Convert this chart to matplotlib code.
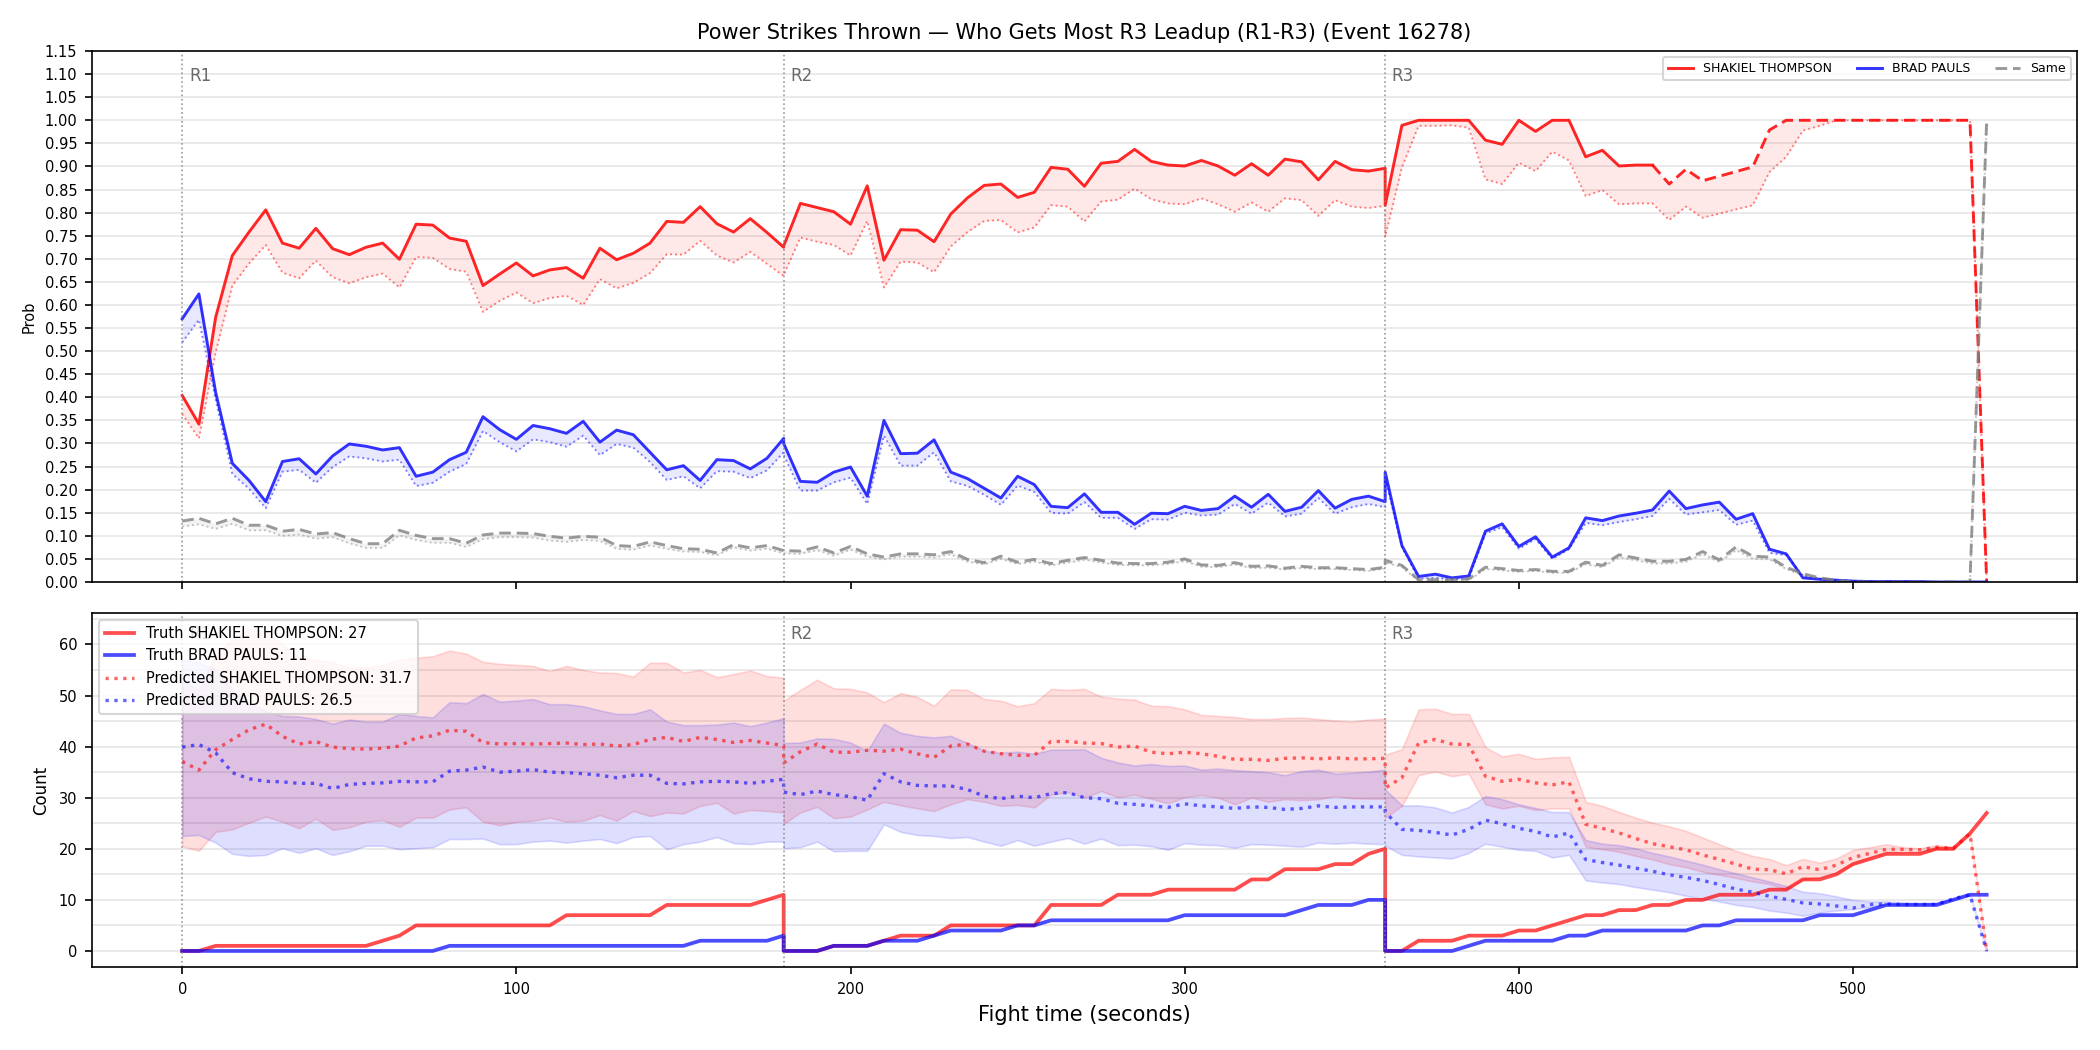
import numpy as np
import matplotlib
matplotlib.use("Agg")
import matplotlib.pyplot as plt
from matplotlib.ticker import MultipleLocator

# ---------------- data ----------------
ROUND_STARTS = [0, 180, 360]
ROUND_LABELS = ["R1", "R2", "R3"]
STEP = 5
ROUND_LEN = 180
t = np.concatenate([np.arange(s, s + ROUND_LEN + 1, STEP) for s in ROUND_STARTS])

FIGHTER_A = "SHAKIEL THOMPSON"
FIGHTER_B = "BRAD PAULS"
TRUTH_A_FINAL = 27
TRUTH_B_FINAL = 11
PRED_A_FINAL = 31.7
PRED_B_FINAL = 26.5

# top panel: probability of getting most strikes
prob_a = [0.404, 0.342, 0.573, 0.707, 0.758, 0.806, 0.734, 0.723, 0.766, 0.722,
          0.709, 0.725, 0.734, 0.699, 0.775, 0.773, 0.745, 0.738, 0.642, 0.667,
          0.691, 0.663, 0.676, 0.681, 0.658, 0.723, 0.698, 0.712, 0.734, 0.781,
          0.779, 0.813, 0.776, 0.758, 0.787, 0.757, 0.725,
          0.728, 0.820, 0.811, 0.802, 0.775, 0.858, 0.697, 0.763, 0.762, 0.737,
          0.797, 0.832, 0.859, 0.862, 0.833, 0.844, 0.898, 0.894, 0.857, 0.907,
          0.911, 0.937, 0.911, 0.903, 0.901, 0.913, 0.901, 0.881, 0.906, 0.881,
          0.916, 0.910, 0.871, 0.911, 0.893, 0.890, 0.896,
          0.816, 0.989, 1.0, 1.0, 1.0, 1.0, 0.957, 0.948, 1.0, 0.976,
          1.0, 1.0, 0.921, 0.935, 0.901, 0.903, 0.903, 0.862, 0.894, 0.869,
          0.879, 0.889, 0.899, 0.979, 1.0, 1.0, 1.0, 1.0, 1.0, 1.0,
          1.0, 1.0, 1.0, 1.0, 1.0, 1.0, 0.0]
prob_a_pred = [0.364, 0.311, 0.497, 0.642, 0.690, 0.730, 0.670, 0.658, 0.696, 0.660,
               0.647, 0.660, 0.668, 0.638, 0.704, 0.702, 0.678, 0.672, 0.585, 0.609,
               0.627, 0.604, 0.615, 0.620, 0.600, 0.656, 0.636, 0.648, 0.669, 0.710,
               0.709, 0.739, 0.707, 0.692, 0.715, 0.689, 0.663,
               0.665, 0.746, 0.737, 0.730, 0.707, 0.782, 0.638, 0.694, 0.692, 0.671,
               0.727, 0.758, 0.782, 0.784, 0.757, 0.768, 0.816, 0.813, 0.781, 0.824,
               0.828, 0.852, 0.829, 0.820, 0.818, 0.831, 0.818, 0.802, 0.822, 0.802,
               0.831, 0.827, 0.793, 0.827, 0.813, 0.810, 0.815,
               0.748, 0.898, 0.988, 0.988, 0.989, 0.984, 0.872, 0.862, 0.908, 0.890,
               0.932, 0.913, 0.836, 0.849, 0.818, 0.820, 0.820, 0.784, 0.813, 0.789,
               0.798, 0.807, 0.816, 0.888, 0.921, 0.978, 0.988, 1.0, 1.0, 1.0,
               1.0, 1.0, 1.0, 1.0, 1.0, 1.0, 0.0]
prob_b = [0.570, 0.624, 0.411, 0.257, 0.220, 0.174, 0.261, 0.267, 0.234, 0.273,
          0.299, 0.294, 0.286, 0.291, 0.229, 0.238, 0.265, 0.281, 0.358, 0.330,
          0.309, 0.339, 0.332, 0.322, 0.348, 0.303, 0.329, 0.319, 0.281, 0.243,
          0.252, 0.220, 0.265, 0.263, 0.245, 0.268, 0.311,
          0.300, 0.218, 0.216, 0.238, 0.249, 0.186, 0.350, 0.278, 0.279, 0.308,
          0.238, 0.224, 0.203, 0.182, 0.229, 0.211, 0.164, 0.161, 0.191, 0.151,
          0.151, 0.125, 0.149, 0.148, 0.164, 0.155, 0.159, 0.186, 0.162, 0.190,
          0.153, 0.162, 0.198, 0.160, 0.179, 0.186, 0.174,
          0.238, 0.079, 0.012, 0.017, 0.009, 0.013, 0.110, 0.126, 0.077, 0.098,
          0.054, 0.074, 0.139, 0.133, 0.143, 0.149, 0.156, 0.197, 0.159, 0.167,
          0.173, 0.136, 0.148, 0.071, 0.061, 0.009, 0.006, 0.004, 0.002, 0.001,
          0.001, 0.001, 0.001, 0.0, 0.0, 0.0, 0.0]
prob_b_pred = [0.519, 0.568, 0.395, 0.234, 0.202, 0.160, 0.239, 0.243, 0.215, 0.249,
               0.272, 0.268, 0.261, 0.265, 0.208, 0.215, 0.239, 0.256, 0.327, 0.303,
               0.283, 0.309, 0.303, 0.293, 0.317, 0.275, 0.299, 0.291, 0.260, 0.221,
               0.229, 0.203, 0.240, 0.239, 0.225, 0.242, 0.281,
               0.275, 0.198, 0.198, 0.216, 0.226, 0.169, 0.317, 0.252, 0.252, 0.281,
               0.218, 0.208, 0.189, 0.167, 0.209, 0.195, 0.150, 0.148, 0.173, 0.139,
               0.139, 0.115, 0.136, 0.135, 0.150, 0.144, 0.146, 0.169, 0.148, 0.172,
               0.142, 0.148, 0.182, 0.148, 0.162, 0.169, 0.162,
               0.225, 0.076, 0.007, 0.009, 0.006, 0.007, 0.105, 0.119, 0.072, 0.093,
               0.050, 0.071, 0.128, 0.123, 0.130, 0.136, 0.143, 0.180, 0.146, 0.151,
               0.156, 0.124, 0.133, 0.063, 0.058, 0.013, 0.007, 0.004, 0.002, 0.001,
               0.001, 0.001, 0.0, 0.0, 0.0, 0.0, 0.0]
prob_same = [0.132, 0.138, 0.126, 0.138, 0.123, 0.123, 0.110, 0.114, 0.104, 0.107,
             0.094, 0.083, 0.083, 0.112, 0.101, 0.094, 0.094, 0.084, 0.102, 0.106,
             0.106, 0.105, 0.099, 0.095, 0.099, 0.097, 0.079, 0.077, 0.087, 0.079,
             0.072, 0.071, 0.063, 0.081, 0.074, 0.079, 0.068,
             0.068, 0.067, 0.076, 0.063, 0.077, 0.061, 0.054, 0.061, 0.061, 0.059,
             0.066, 0.049, 0.042, 0.056, 0.043, 0.049, 0.040, 0.047, 0.053, 0.047,
             0.041, 0.040, 0.040, 0.043, 0.050, 0.037, 0.036, 0.042, 0.034, 0.035,
             0.030, 0.034, 0.031, 0.031, 0.029, 0.027, 0.032,
             0.047, 0.036, 0.005, 0.005, 0.005, 0.007, 0.032, 0.029, 0.025, 0.027,
             0.023, 0.023, 0.043, 0.036, 0.059, 0.052, 0.045, 0.045, 0.049, 0.066,
             0.048, 0.076, 0.056, 0.054, 0.032, 0.018, 0.009, 0.004, 0.0, 0.0,
             0.0, 0.0, 0.0, 0.0, 0.0, 0.0, 1.0]
prob_same_pred = [0.120, 0.125, 0.115, 0.126, 0.112, 0.112, 0.100, 0.103, 0.094, 0.097,
                  0.084, 0.074, 0.074, 0.101, 0.091, 0.085, 0.085, 0.076, 0.093, 0.097,
                  0.097, 0.096, 0.090, 0.087, 0.091, 0.089, 0.072, 0.070, 0.079, 0.072,
                  0.066, 0.065, 0.058, 0.075, 0.068, 0.072, 0.062,
                  0.062, 0.061, 0.069, 0.057, 0.070, 0.055, 0.049, 0.055, 0.055, 0.053,
                  0.060, 0.044, 0.038, 0.050, 0.039, 0.044, 0.036, 0.042, 0.048, 0.042,
                  0.037, 0.036, 0.036, 0.039, 0.045, 0.033, 0.032, 0.038, 0.030, 0.031,
                  0.027, 0.030, 0.028, 0.028, 0.026, 0.024, 0.029,
                  0.042, 0.032, 0.002, 0.002, 0.002, 0.004, 0.028, 0.025, 0.022, 0.024,
                  0.020, 0.020, 0.038, 0.032, 0.053, 0.047, 0.040, 0.040, 0.044, 0.060,
                  0.043, 0.069, 0.050, 0.049, 0.028, 0.015, 0.007, 0.003, 0.0, 0.0,
                  0.0, 0.0, 0.0, 0.0, 0.0, 0.0, 1.0]

# bottom panel: cumulative counts (per round)
truth_a = [0, 0, 1, 1, 1, 1, 1, 1, 1, 1, 1, 1, 2, 3, 5, 5, 5, 5, 5, 5,
           5, 5, 5, 7, 7, 7, 7, 7, 7, 9, 9, 9, 9, 9, 9, 10, 11,
           0, 0, 0, 1, 1, 1, 2, 3, 3, 3, 5, 5, 5, 5, 5, 5, 9, 9, 9, 9,
           11, 11, 11, 12, 12, 12, 12, 12, 14, 14, 16, 16, 16, 17, 17, 19, 20,
           0, 0, 2, 2, 2, 3, 3, 3, 4, 4, 5, 6, 7, 7, 8, 8, 9, 9, 10, 10,
           11, 11, 11, 12, 12, 14, 14, 15, 17, 18, 19, 19, 19, 20, 20, 23, 27]
truth_b = [0, 0, 0, 0, 0, 0, 0, 0, 0, 0, 0, 0, 0, 0, 0, 0, 1, 1, 1, 1,
           1, 1, 1, 1, 1, 1, 1, 1, 1, 1, 1, 2, 2, 2, 2, 2, 3,
           0, 0, 0, 1, 1, 1, 2, 2, 2, 3, 4, 4, 4, 4, 5, 5, 6, 6, 6, 6,
           6, 6, 6, 6, 7, 7, 7, 7, 7, 7, 7, 8, 9, 9, 9, 10, 10,
           0, 0, 0, 0, 0, 1, 2, 2, 2, 2, 2, 3, 3, 4, 4, 4, 4, 4, 4, 5,
           5, 6, 6, 6, 6, 6, 7, 7, 7, 8, 9, 9, 9, 9, 10, 11, 11]
pred_a = [37.1, 35.4, 39.4, 41.4, 43.3, 44.4, 42.0, 40.5, 41.0, 39.9,
          39.6, 39.5, 39.7, 40.1, 41.7, 42.1, 43.2, 43.0, 40.8, 40.5,
          40.6, 40.5, 40.6, 40.7, 40.4, 40.5, 40.1, 40.4, 41.4, 41.8,
          41.0, 41.8, 41.4, 40.8, 41.2, 40.7, 40.2,
          36.8, 39.0, 40.5, 38.9, 38.9, 39.3, 39.1, 39.5, 38.6, 37.9,
          40.1, 40.5, 39.1, 38.6, 38.3, 38.3, 41.0, 41.0, 40.7, 40.6,
          39.9, 40.1, 38.9, 38.6, 38.9, 38.6, 38.1, 37.5, 37.5, 37.3,
          37.7, 37.8, 37.6, 37.8, 37.6, 37.6, 37.7,
          31.9, 33.9, 40.7, 41.4, 40.5, 40.4, 34.2, 33.2, 33.6, 32.9,
          32.5, 33.1, 24.8, 24.0, 23.1, 22.0, 21.0, 20.4, 19.8, 18.8,
          17.9, 17.0, 16.0, 15.9, 15.1, 16.5, 15.9, 16.8, 18.3, 19.1,
          19.9, 19.9, 19.8, 20.3, 20.1, 22.9, 0.0]
pred_b = [39.9, 40.4, 38.8, 34.9, 33.7, 33.2, 33.1, 32.8, 32.8, 31.8,
          32.6, 32.8, 32.9, 33.2, 33.1, 33.1, 35.2, 35.4, 36.0, 35.0,
          35.2, 35.5, 35.0, 34.9, 34.7, 34.4, 33.9, 34.4, 34.4, 32.8,
          32.7, 33.1, 33.2, 33.1, 32.8, 33.2, 33.6,
          31.1, 30.6, 31.3, 30.6, 30.2, 29.5, 34.7, 33.1, 32.4, 32.3,
          32.3, 31.6, 30.3, 29.8, 30.3, 30.0, 30.8, 31.0, 30.0, 29.8,
          28.9, 28.7, 28.4, 28.1, 28.8, 28.4, 28.2, 27.9, 28.2, 28.1,
          27.7, 27.9, 28.4, 28.1, 28.2, 28.2, 28.2,
          27.2, 23.8, 23.6, 23.2, 22.7, 23.8, 25.6, 24.9, 24.0, 23.4,
          22.3, 23.1, 17.9, 17.3, 16.8, 16.2, 15.6, 14.9, 14.4, 13.8,
          13.0, 12.1, 11.5, 10.7, 10.1, 9.4, 9.2, 8.8, 8.4, 9.1,
          9.2, 9.1, 9.1, 9.1, 10.2, 11.0, 0.0]
pred_a_hi = [53.0, 51.0, 58.0, 61.0, 63.0, 62.5, 60.0, 57.5, 57.0, 56.5,
             55.5, 55.5, 56.0, 57.0, 57.4, 57.7, 58.8, 58.2, 56.6, 56.2,
             56.0, 55.8, 54.8, 55.8, 55.0, 54.5, 54.4, 53.7, 56.4, 56.4,
             54.5, 55.0, 53.6, 54.2, 54.9, 53.8, 53.5,
             49.0, 51.1, 53.1, 51.4, 51.3, 50.6, 48.7, 50.5, 49.7, 48.0,
             51.2, 51.1, 49.3, 49.0, 47.9, 48.5, 51.3, 51.1, 51.3, 49.8,
             49.4, 49.2, 48.0, 47.9, 47.3, 46.2, 46.0, 45.8, 45.4, 45.4,
             45.6, 45.7, 45.4, 45.1, 44.9, 45.3, 45.5,
             38.4, 39.5, 47.3, 47.4, 46.4, 46.4, 39.9, 38.1, 38.6, 37.6,
             37.9, 38.0, 29.2, 28.4, 27.2, 26.1, 25.1, 24.4, 23.5, 22.2,
             20.9, 19.6, 18.6, 18.0, 16.8, 18.0, 17.3, 18.1, 19.8, 20.3,
             20.9, 20.3, 20.1, 20.7, 20.4, 23.1, 0.0]
pred_a_lo = [20.5, 19.6, 23.3, 23.8, 25.1, 26.3, 25.3, 24.0, 25.9, 23.7,
             24.2, 25.3, 25.6, 24.3, 26.1, 26.1, 27.7, 28.1, 25.3, 24.6,
             25.3, 25.5, 26.1, 25.3, 25.5, 26.6, 25.5, 27.4, 26.4, 27.1,
             26.9, 28.4, 29.0, 26.9, 27.6, 27.4, 27.1,
             24.9, 27.1, 28.2, 26.0, 26.3, 27.7, 29.2, 28.5, 27.9, 27.4,
             28.7, 29.7, 29.2, 28.4, 28.6, 28.1, 30.6, 31.1, 30.0, 31.3,
             30.1, 30.6, 29.8, 28.9, 30.1, 30.5, 30.0, 28.7, 30.0, 29.2,
             29.7, 29.5, 29.7, 30.3, 29.9, 29.8, 29.8,
             26.1, 28.4, 34.4, 35.1, 34.2, 34.7, 28.7, 27.9, 28.4, 27.6,
             27.9, 27.9, 20.4, 19.9, 19.4, 18.6, 17.9, 17.0, 16.4, 15.5,
             14.9, 14.3, 13.6, 13.1, 12.0, 14.0, 14.4, 15.4, 17.0, 18.3,
             19.4, 19.6, 19.4, 19.9, 19.9, 23.0, 0.0]
pred_b_hi = [57.0, 56.5, 55.0, 51.0, 48.5, 47.0, 46.0, 45.9, 45.4, 44.5,
             45.3, 44.9, 44.9, 46.4, 46.0, 45.7, 48.7, 48.5, 50.3, 48.8,
             49.0, 49.3, 48.3, 48.3, 47.9, 47.1, 46.4, 46.4, 47.3, 44.9,
             44.2, 44.2, 44.3, 44.7, 44.0, 44.7, 45.6,
             40.7, 40.8, 41.6, 41.5, 40.8, 39.1, 44.5, 42.7, 42.1, 41.8,
             42.1, 40.7, 39.2, 38.8, 39.0, 38.6, 39.4, 39.4, 39.5, 37.8,
             36.9, 36.3, 36.6, 36.2, 36.3, 35.5, 35.7, 35.4, 35.2, 35.0,
             34.4, 35.2, 35.5, 34.7, 34.9, 35.1, 35.5,
             31.6, 28.5, 28.5, 28.1, 27.1, 28.2, 30.3, 29.7, 28.7, 28.0,
             27.2, 27.2, 21.7, 21.0, 20.7, 20.1, 19.2, 18.5, 17.7, 16.9,
             16.0, 15.2, 14.4, 13.6, 12.7, 11.6, 11.3, 10.7, 10.0, 9.7,
             9.7, 9.5, 9.4, 9.5, 10.2, 11.0, 0.0]
pred_b_lo = [22.5, 22.7, 21.2, 19.0, 18.6, 18.8, 20.1, 19.2, 20.1, 18.8,
             19.5, 20.6, 20.6, 19.9, 20.1, 20.3, 21.9, 21.9, 22.0, 20.9,
             20.9, 21.4, 21.6, 21.2, 21.6, 21.9, 21.1, 22.3, 22.5, 19.9,
             20.9, 21.4, 22.3, 21.1, 20.9, 21.4, 21.4,
             20.1, 20.3, 21.4, 19.5, 19.6, 19.6, 24.8, 23.3, 22.7, 22.5,
             22.1, 22.3, 21.4, 20.6, 21.7, 20.6, 21.4, 22.1, 21.0, 22.0,
             20.7, 20.8, 20.5, 19.8, 21.1, 20.8, 20.7, 20.2, 20.9, 20.8,
             20.6, 20.4, 21.2, 21.0, 21.2, 21.0, 20.9,
             20.6, 18.8, 18.5, 18.3, 18.1, 19.2, 21.0, 20.4, 19.8, 19.6,
             18.3, 18.8, 13.8, 13.4, 13.1, 12.5, 12.0, 11.5, 10.8, 10.2,
             9.7, 9.0, 8.6, 7.9, 7.5, 6.9, 7.5, 7.9, 8.2, 8.6,
             9.1, 9.1, 9.1, 9.1, 10.1, 11.0, 0.0]

DASH_FROM_T = 440  # red probability line drawn dashed from here on (last round)

# ---------------- figure ----------------
plt.rcParams['font.family'] = ['DejaVu Sans']
fig = plt.figure(figsize=(14, 7), dpi=150)
ax1 = fig.add_axes([0.0438, 0.4457, 0.9452, 0.5057])
ax2 = fig.add_axes([0.0438, 0.079, 0.9452, 0.3372], sharex=ax1)

RED = '#ff0000'
BLUE = '#0000ff'
GRAY = 'gray'

pa = np.array(prob_a); pap = np.array(prob_a_pred)
pb = np.array(prob_b); pbp = np.array(prob_b_pred)
ps = np.array(prob_same); psp = np.array(prob_same_pred)

ax1.fill_between(t, pa, pap, color=RED, alpha=0.09, lw=0)
ax1.fill_between(t, pb, pbp, color=BLUE, alpha=0.09, lw=0)
ax1.fill_between(t, ps, psp, color=GRAY, alpha=0.09, lw=0)

split = np.where(t == DASH_FROM_T)[0][-1]
ax1.plot(t[:split + 1], pa[:split + 1], color=RED, lw=1.4, alpha=0.85, label=FIGHTER_A)
ax1.plot(t[split:], pa[split:], color=RED, lw=1.4, alpha=0.85, ls=(0, (4, 2)))
ax1.plot(t, pap, color=RED, lw=0.9, alpha=0.5, ls=':')
ax1.plot(t, pb, color=BLUE, lw=1.4, alpha=0.8, label=FIGHTER_B)
ax1.plot(t, pbp, color=BLUE, lw=0.9, alpha=0.5, ls=':')
ax1.plot(t, ps, color=GRAY, lw=1.4, alpha=0.8, ls=(0, (4, 2)), label='Same')
ax1.plot(t, psp, color=GRAY, lw=0.9, alpha=0.45, ls=':')

ax1.set_ylim(0, 1.15)
ax1.yaxis.set_major_locator(MultipleLocator(0.05))
ax1.set_ylabel('Prob', fontsize=7)
ax1.tick_params(axis='y', labelsize=7)
ax1.tick_params(axis='x', labelbottom=False)
ax1.grid(axis='y', color='#e6e6e6', lw=0.8)
ax1.set_axisbelow(True)
ax1.set_title('Power Strikes Thrown \u2014 Who Gets Most R3 Leadup (R1-R3) (Event 16278)',
              fontsize=10)
for s, lab in zip(ROUND_STARTS, ROUND_LABELS):
    ax1.axvline(s, color='gray', ls=':', lw=0.8, alpha=0.8)
    ax1.text(s + 2, 1.097, lab, color='dimgray', fontsize=8, va='center')
ax1.legend(loc='upper right', ncol=3, fontsize=6)

# bottom
ax2.fill_between(t, pred_a_lo, pred_a_hi, color=RED, alpha=0.13, lw=0.8,
                 edgecolor=(1, 0, 0, 0.15))
ax2.fill_between(t, pred_b_lo, pred_b_hi, color=BLUE, alpha=0.13, lw=0.8,
                 edgecolor=(0, 0, 1, 0.15))
ax2.plot(t, truth_a, color=RED, lw=1.8, alpha=0.7,
         label=f'Truth {FIGHTER_A}: {TRUTH_A_FINAL}')
ax2.plot(t, truth_b, color=BLUE, lw=1.8, alpha=0.7,
         label=f'Truth {FIGHTER_B}: {TRUTH_B_FINAL}')
ax2.plot(t, pred_a, color=RED, lw=1.6, alpha=0.6, ls=':',
         label=f'Predicted {FIGHTER_A}: {PRED_A_FINAL}')
ax2.plot(t, pred_b, color=BLUE, lw=1.6, alpha=0.6, ls=':',
         label=f'Predicted {FIGHTER_B}: {PRED_B_FINAL}')
for s, lab in zip(ROUND_STARTS, ROUND_LABELS):
    ax2.axvline(s, color='gray', ls=':', lw=0.8, alpha=0.8)
    ax2.text(s + 2, 62, lab, color='dimgray', fontsize=8, va='center')
ax2.yaxis.set_major_locator(MultipleLocator(10))
ax2.yaxis.set_minor_locator(MultipleLocator(5))
ax2.tick_params(axis='y', which='minor', length=0)
ax2.grid(axis='y', which='both', color='#e6e6e6', lw=0.8)
ax2.set_axisbelow(True)
ax2.set_ylabel('Count', fontsize=8)
ax2.set_xlabel('Fight time (seconds)', fontsize=10)
ax2.tick_params(labelsize=7)
ax2.legend(loc='upper left', fontsize=7)

fig.savefig('out.png', dpi=150)
